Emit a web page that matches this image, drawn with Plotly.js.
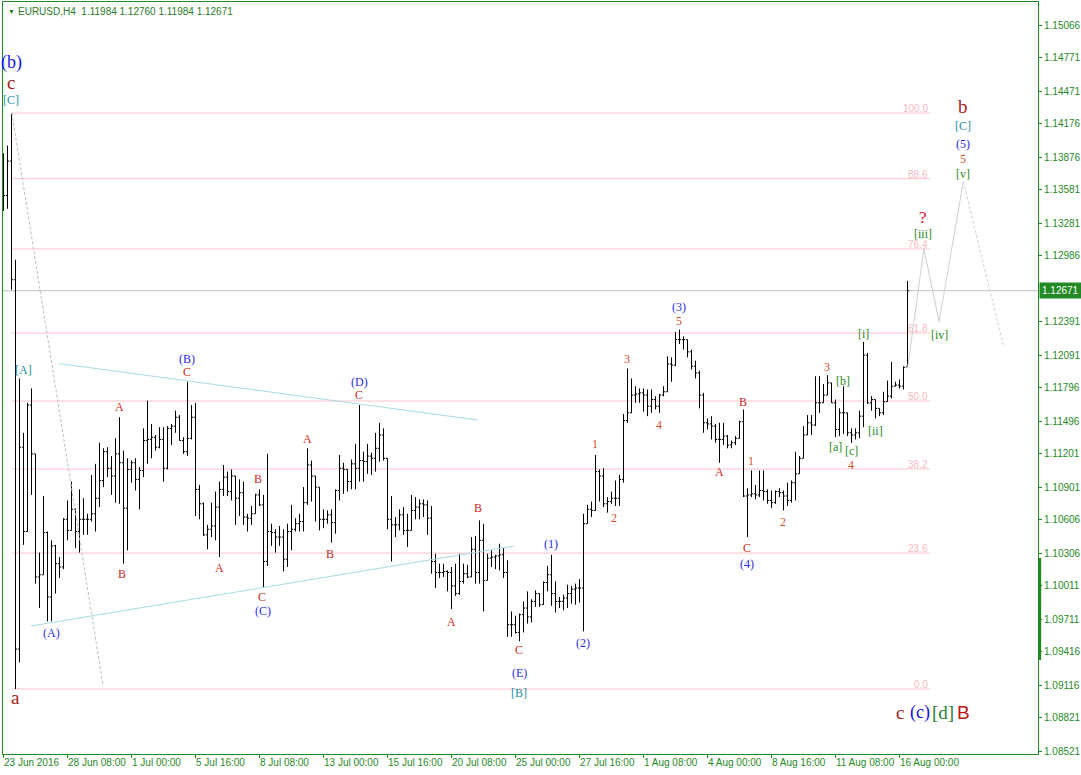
<!DOCTYPE html>
<html><head><meta charset="utf-8">
<script src="https://cdn.plot.ly/plotly-3.0.1.min.js"></script>
<style>html,body{margin:0;padding:0;background:#fff;}#chart{width:1081px;height:775px;}</style>
</head><body><div id="chart"></div>
<script>
// ---------- data: EURUSD H4 bars (bar index 0 = 23 Jun 2016 16:00) ----------
const barOpen = [
1.1360,1.1353,1.1384,1.1277,1.0944,1.1126,1.1050,1.1164,1.1120,1.1009,
1.1011,1.1049,1.0991,1.1037,1.1021,1.1018,1.1061,1.1051,1.1070,1.1050,
1.1061,1.1061,1.1061,1.1066,1.1080,1.1096,1.1122,1.1107,1.1100,1.1120,
1.1112,1.1071,1.1106,1.1112,1.1097,1.1105,1.1132,1.1133,1.1135,1.1126,
1.1133,1.1107,1.1143,1.1145,1.1153,1.1132,1.1122,1.1134,1.1153,1.1088,
1.1075,1.1047,1.1052,1.1055,1.1072,1.1088,1.1099,1.1086,1.1100,1.1080,
1.1085,1.1063,1.1062,1.1066,1.1083,1.1074,1.1023,1.1050,1.1049,1.1045,
1.1045,1.1025,1.1050,1.1052,1.1057,1.1059,1.1076,1.1110,1.1100,1.1090,
1.1061,1.1061,1.1065,1.1058,1.1087,1.1107,1.1106,1.1095,1.1111,1.1107,
1.1114,1.1113,1.1118,1.1116,1.1125,1.1137,1.1116,1.1061,1.1056,1.1056,
1.1065,1.1051,1.1051,1.1069,1.1072,1.1075,1.1074,1.1062,1.1023,1.1013,
1.1013,1.1014,1.1013,1.1001,1.0994,1.1005,1.1012,1.1009,1.1034,1.1013,
1.1042,1.1006,1.1026,1.1027,1.1028,1.1029,1.1013,1.0966,1.0966,1.0959,
1.0975,1.0981,1.0973,1.0987,1.0994,1.0984,1.1004,1.1011,1.0994,1.0987,
1.0987,1.0990,1.0994,1.0998,1.0999,1.0999,1.1057,1.1070,1.1069,1.1104,
1.1100,1.1075,1.1077,1.1080,1.1080,1.1097,1.1150,1.1157,1.1173,1.1174,
1.1175,1.1173,1.1163,1.1169,1.1163,1.1173,1.1176,1.1201,1.1200,1.1223,
1.1223,1.1223,1.1212,1.1199,1.1193,1.1173,1.1148,1.1147,1.1145,1.1133,
1.1133,1.1136,1.1128,1.1130,1.1134,1.1149,1.1082,1.1083,1.1084,1.1083,
1.1087,1.1086,1.1078,1.1076,1.1086,1.1085,1.1082,1.1078,1.1094,1.1102,
1.1116,1.1137,1.1148,1.1146,1.1166,1.1166,1.1173,1.1184,1.1166,1.1142,
1.1157,1.1157,1.1139,1.1137,1.1139,1.1154,1.1209,1.1166,1.1169,1.1161,
1.1157,1.1167,1.1172,1.1181,1.1182,1.1181,1.11984];
const barHigh = [
1.1391,1.1398,1.1427,1.1295,1.1188,1.1139,1.1166,1.1179,1.1120,1.1031,
1.1082,1.1050,1.1042,1.1038,1.1027,1.1062,1.1078,1.1095,1.1071,1.1088,
1.1080,1.1066,1.1101,1.1111,1.1130,1.1125,1.1126,1.1118,1.1134,1.1153,
1.1123,1.1116,1.1114,1.1116,1.1108,1.1143,1.1168,1.1147,1.1137,1.1144,
1.1144,1.1145,1.1147,1.1159,1.1155,1.1135,1.1185,1.1164,1.1166,1.1092,
1.1076,1.1056,1.1076,1.1086,1.1095,1.1110,1.1104,1.1106,1.1100,1.1097,
1.1095,1.1066,1.1073,1.1084,1.1088,1.1083,1.1120,1.1057,1.1052,1.1055,
1.1052,1.1057,1.1074,1.1062,1.1066,1.1090,1.1125,1.1114,1.1100,1.1090,
1.1070,1.1069,1.1070,1.1088,1.1119,1.1112,1.1106,1.1115,1.1129,1.1164,
1.1122,1.1129,1.1121,1.1139,1.1148,1.1143,1.1116,1.1082,1.1063,1.1070,
1.1072,1.1066,1.1083,1.1081,1.1079,1.1079,1.1078,1.1073,1.1030,1.1021,
1.1021,1.1015,1.1018,1.1021,1.1030,1.1021,1.1020,1.1045,1.1046,1.1060,
1.1057,1.1030,1.1033,1.1029,1.1039,1.1035,1.1024,1.0978,1.0974,1.0976,
1.0987,1.0996,1.0989,1.0997,1.0994,1.1005,1.1019,1.1029,1.1005,1.0991,
1.0993,1.1002,1.1001,1.1003,1.1007,1.1066,1.1074,1.1077,1.1119,1.1106,
1.1107,1.1081,1.1086,1.1096,1.1101,1.1156,1.1197,1.1188,1.1181,1.1179,
1.1179,1.1178,1.1178,1.1172,1.1174,1.1181,1.1208,1.1207,1.1230,1.1232,
1.1226,1.1223,1.1214,1.1204,1.1195,1.1175,1.1152,1.1154,1.1147,1.1148,
1.1148,1.1137,1.1132,1.1136,1.1150,1.1160,1.1089,1.1105,1.1092,1.1105,
1.1105,1.1088,1.1087,1.1087,1.1089,1.1087,1.1094,1.1096,1.1122,1.1118,
1.1145,1.1155,1.1155,1.1190,1.1190,1.1183,1.1191,1.1184,1.1169,1.1161,
1.1181,1.1157,1.1143,1.1143,1.1159,1.1221,1.1211,1.1172,1.1169,1.1161,
1.1176,1.1186,1.1203,1.1185,1.1187,1.1199,1.12760];
const barLow = [
1.1339,1.1341,1.1268,1.0908,1.0932,1.1038,1.1050,1.1083,1.1003,1.0981,
1.1011,1.0969,1.0969,1.0994,1.1008,1.1016,1.1042,1.1051,1.1035,1.1031,
1.1047,1.1047,1.1059,1.1050,1.1072,1.1090,1.1099,1.1083,1.1076,1.1075,
1.1021,1.1033,1.1094,1.1087,1.1070,1.1099,1.1111,1.1116,1.1123,1.1125,
1.1095,1.1106,1.1128,1.1139,1.1132,1.1120,1.1118,1.1133,1.1064,1.1061,
1.1046,1.1034,1.1045,1.1042,1.1027,1.1082,1.1082,1.1078,1.1056,1.1064,
1.1056,1.1050,1.1056,1.1066,1.1073,1.0999,1.1019,1.1037,1.1031,1.1037,
1.1014,1.1018,1.1033,1.1050,1.1050,1.1050,1.1074,1.1077,1.1059,1.1051,
1.1053,1.1057,1.1040,1.1048,1.1078,1.1084,1.1086,1.1088,1.1088,1.1095,
1.1095,1.1102,1.1101,1.1104,1.1113,1.1114,1.1052,1.1023,1.1045,1.1051,
1.1047,1.1036,1.1051,1.1061,1.1061,1.1063,1.1047,1.1012,1.0999,1.1008,
1.1009,1.0996,1.0980,1.0992,1.0993,1.1003,1.1008,1.1009,1.1003,1.1003,
1.0978,1.1006,1.1018,1.1016,1.1015,1.1008,1.0955,1.0955,1.0958,1.0951,
1.0959,1.0967,1.0968,1.0982,1.0982,1.0984,1.0996,1.0983,1.0977,1.0981,
1.0979,1.0981,1.0985,1.0984,1.0986,1.0960,1.1057,1.1063,1.1069,1.1077,
1.1072,1.1067,1.1075,1.1073,1.1073,1.1094,1.1148,1.1157,1.1166,1.1166,
1.1158,1.1154,1.1157,1.1160,1.1157,1.1172,1.1176,1.1185,1.1199,1.1219,
1.1214,1.1207,1.1196,1.1188,1.1161,1.1139,1.1142,1.1133,1.1130,1.1112,
1.1128,1.1125,1.1125,1.1128,1.1134,1.1081,1.1045,1.1081,1.1079,1.1081,
1.1078,1.1075,1.1071,1.1075,1.1081,1.1069,1.1073,1.1076,1.1078,1.1102,
1.1116,1.1137,1.1137,1.1145,1.1157,1.1166,1.1173,1.1166,1.1135,1.1136,
1.1138,1.1136,1.1130,1.1133,1.1134,1.1144,1.1165,1.1159,1.1152,1.1154,
1.1155,1.1167,1.1170,1.1181,1.1179,1.1178,1.11984];
const barClose = [
1.1353,1.1384,1.1277,1.0944,1.1126,1.1050,1.1164,1.1120,1.1009,1.1011,
1.1049,1.0991,1.1037,1.1021,1.1018,1.1061,1.1051,1.1070,1.1050,1.1061,
1.1061,1.1061,1.1066,1.1080,1.1096,1.1122,1.1107,1.1100,1.1120,1.1112,
1.1071,1.1106,1.1112,1.1097,1.1105,1.1132,1.1133,1.1135,1.1126,1.1133,
1.1107,1.1143,1.1145,1.1153,1.1132,1.1122,1.1134,1.1153,1.1088,1.1075,
1.1047,1.1052,1.1055,1.1072,1.1088,1.1099,1.1086,1.1100,1.1080,1.1085,
1.1063,1.1062,1.1066,1.1083,1.1074,1.1023,1.1050,1.1049,1.1045,1.1045,
1.1025,1.1050,1.1052,1.1057,1.1059,1.1076,1.1110,1.1100,1.1090,1.1061,
1.1061,1.1065,1.1058,1.1087,1.1107,1.1106,1.1095,1.1111,1.1107,1.1114,
1.1113,1.1118,1.1116,1.1125,1.1137,1.1116,1.1061,1.1056,1.1056,1.1065,
1.1051,1.1051,1.1069,1.1072,1.1075,1.1074,1.1062,1.1023,1.1013,1.1013,
1.1014,1.1013,1.1001,1.0994,1.1005,1.1012,1.1009,1.1034,1.1013,1.1042,
1.1006,1.1026,1.1027,1.1028,1.1029,1.1013,1.0966,1.0966,1.0959,1.0975,
1.0981,1.0973,1.0987,1.0994,1.0984,1.1004,1.1011,1.0994,1.0987,1.0987,
1.0990,1.0994,1.0998,1.0999,1.0999,1.1057,1.1070,1.1069,1.1104,1.1100,
1.1075,1.1077,1.1080,1.1080,1.1097,1.1150,1.1157,1.1173,1.1174,1.1175,
1.1173,1.1163,1.1169,1.1163,1.1173,1.1176,1.1201,1.1200,1.1223,1.1223,
1.1223,1.1212,1.1199,1.1193,1.1173,1.1148,1.1147,1.1145,1.1133,1.1133,
1.1136,1.1128,1.1130,1.1134,1.1149,1.1082,1.1083,1.1084,1.1083,1.1087,
1.1086,1.1078,1.1076,1.1086,1.1085,1.1082,1.1078,1.1094,1.1102,1.1116,
1.1137,1.1148,1.1146,1.1166,1.1166,1.1173,1.1184,1.1166,1.1142,1.1157,
1.1157,1.1139,1.1137,1.1139,1.1154,1.1209,1.1166,1.1169,1.1161,1.1157,
1.1167,1.1172,1.1181,1.1182,1.1181,1.1198,1.12671];

// time axis labels (every 16 bars)
const timeLabels = ["23 Jun 2016","28 Jun 08:00","1 Jul 00:00","5 Jul 16:00","8 Jul 08:00","13 Jul 00:00","15 Jul 16:00","20 Jul 08:00","25 Jul 00:00","27 Jul 16:00","1 Aug 08:00","4 Aug 00:00","8 Aug 16:00","11 Aug 08:00","16 Aug 00:00"];
const timeLabelBars = [0,16,32,48,64,80,96,112,128,144,160,176,192,208,224];
// price axis labels
const priceTicks = [1.08521,1.08821,1.09116,1.09416,1.09711,1.10011,1.10306,1.10606,1.10901,1.11201,1.11496,1.11796,1.12091,1.12391,1.12986,1.13281,1.13581,1.13876,1.14176,1.14471,1.14771,1.15066];
const lastPrice = 1.12671;
const headerText = "EURUSD,H4\u00a0\u00a01.11984 1.12760 1.11984 1.12671";

// Fibonacci retracement
const fibLevels = [0.0, 23.6, 38.2, 50.0, 61.8, 76.4, 88.6, 100.0];
const fibLow = 1.0908, fibHigh = 1.14273;
const fibFromBar = 2.05, fibToBar = 231.6;

// drawn lines (bar index, price)
const triUpperBars = [13.95, 118.6], triUpperPrices = [1.12014, 1.11505];
const triLowerBars = [6.8, 127.6],  triLowerPrices = [1.09648, 1.10369];
const guideBars = [2.1, 24.9],      guidePrices = [1.14273, 1.09107];
const pathBars = [226.05, 230.1, 233.9, 239.95], pathPrices = [1.1198, 1.1305, 1.1239, 1.13654];
const pathDashBars = [239.95, 249.95], pathDashPrices = [1.13654, 1.12182];

// Elliott wave labels
const waveText  = ["(b)","c","[C]","[A]","a","(A)","B","A","(B)","C","A","B","C","(C)","A","B","(D)","C","A","B","C","(E)","[B]","(1)","(2)","1","2","3","4","(3)","5","A","B","1","C","(4)","2","3","[b]","[a]","[c]","4","[i]","[ii]","[iii]","?","[iv]","b","[C]","(5)","5","[v]","c","(c)","[d]","B"];
const waveBar   = [2.1,1.9,1.9,5.0,2.9,11.9,29.6,29.0,45.9,45.8,53.9,63.6,64.6,64.9,75.9,81.6,88.9,88.9,111.9,118.6,128.9,128.9,128.9,136.9,144.9,147.9,152.6,155.9,163.9,168.9,168.9,178.9,184.9,186.9,185.9,185.9,194.9,205.9,209.9,207.9,211.9,211.9,215.1,217.9,229.9,229.9,233.9,239.9,239.9,239.9,239.9,239.9,224.1,229.0,234.9,239.9];
const wavePrice = [1.14733,1.14545,1.14390,1.11956,1.08999,1.09585,1.10117,1.11623,1.12055,1.11938,1.10171,1.10973,1.09909,1.09783,1.11334,1.10297,1.11848,1.11731,1.09684,1.10712,1.09432,1.09224,1.09044,1.10387,1.09495,1.11289,1.10622,1.12055,1.11460,1.12524,1.12398,1.11036,1.11668,1.11136,1.10351,1.10207,1.10586,1.11983,1.11857,1.11262,1.11226,1.11100,1.12281,1.11406,1.13185,1.13330,1.12272,1.14336,1.14156,1.13994,1.13858,1.13723,1.08864,1.08864,1.08864,1.08864];
const waveKind  = ["bigBlue","bigDark","teal","teal","bigDark","blue","red","red","blue","red","red","red","red","blue","red","red","blue","red","red","red","red","blue","teal","blue","blue","num","num","num","num","blue","num","red","red","num","red","blue","num","num","green","green","green","num","green","green","green","question","green","bigDark","teal","blue","num","green","bigDark","bigBlue","bigGreen","bigSans"];

// ---------- styles ----------
const AX = '#1f8a1f';
const SERIF = '"Liberation Serif", "Times New Roman", serif';
const SANS = '"Liberation Sans", Arial, sans-serif';
const kindStyle = {
  bigBlue:  {size:18, color:'#1414e6', family:SERIF},
  bigDark:  {size:19, color:'#a81c1c', family:SERIF},
  bigGreen: {size:19, color:'#1f7f2f', family:SERIF},
  bigSans:  {size:19, color:'#b81818', family:SANS},
  teal:     {size:12, color:'#1a8fa0', family:SERIF},
  blue:     {size:12, color:'#2a2af0', family:SERIF},
  red:      {size:12, color:'#d02a1a', family:SERIF},
  num:      {size:12, color:'#d0502a', family:SERIF},
  green:    {size:12, color:'#2a8a1a', family:SERIF},
  question: {size:17, color:'#e4102e', family:SERIF}
};

const barIndex = [];
for (let i = 0; i < barClose.length; i++) barIndex.push(i);

const traces = [
  {type:'ohlc', x:barIndex, open:barOpen, high:barHigh, low:barLow, close:barClose,
   increasing:{line:{color:'#000', width:1}}, decreasing:{line:{color:'#000', width:1}},
   tickwidth:0.4, hoverinfo:'skip'},
  {type:'scatter', mode:'lines', x:triUpperBars, y:triUpperPrices, line:{color:'#a9dbe3', width:1}, hoverinfo:'skip'},
  {type:'scatter', mode:'lines', x:triLowerBars, y:triLowerPrices, line:{color:'#a9dbe3', width:1}, hoverinfo:'skip'},
  {type:'scatter', mode:'lines', x:guideBars, y:guidePrices, line:{color:'#bdbdbd', width:1, dash:'3px,2px'}, hoverinfo:'skip'},
  {type:'scatter', mode:'lines', x:pathBars, y:pathPrices, line:{color:'#cfcfcf', width:1}, hoverinfo:'skip'},
  {type:'scatter', mode:'lines', x:pathDashBars, y:pathDashPrices, line:{color:'#cfcfcf', width:1, dash:'3px,2px'}, hoverinfo:'skip'}
];

const shapes = [];
const annotations = [];
fibLevels.forEach(lv => {
  const p = fibLow + lv / 100 * (fibHigh - fibLow);
  shapes.push({type:'line', xref:'x', yref:'y', x0:fibFromBar, x1:fibToBar, y0:p, y1:p, line:{color:'#f9c3cb', width:1}, layer:'below'});
  annotations.push({xref:'x', yref:'y', x:fibToBar, y:p, xanchor:'right', yanchor:'bottom', yshift:-3,
    text:lv.toFixed(1), showarrow:false, font:{family:SANS, size:10, color:'#f8b9c4'}});
});
shapes.push({type:'line', xref:'paper', yref:'y', x0:0, x1:1, y0:lastPrice, y1:lastPrice, line:{color:'#c0c0c0', width:1}, layer:'below'});
shapes.push({type:'line', xref:'paper', yref:'paper', x0:1.0016, x1:1.0016, y0:0.125, y1:0.2606, line:{color:AX, width:3}});

timeLabelBars.forEach((b, k) => {
  annotations.push({xref:'x', yref:'paper', x:b, y:0, xanchor:'left', yanchor:'top', yshift:-1, xshift:-2,
    text:timeLabels[k], showarrow:false, font:{family:SANS, size:10, color:AX}});
});
annotations.push({xref:'paper', yref:'y', x:1, y:lastPrice, xanchor:'left', yanchor:'middle', xshift:1,
  text:lastPrice.toFixed(5), showarrow:false, bgcolor:'#238a23', borderpad:2, font:{family:SANS, size:10, color:'#ffffff'}});
annotations.push({xref:'paper', yref:'paper', x:0, y:1, xanchor:'left', yanchor:'top', xshift:3, yshift:-4,
  text:'\u25BC', showarrow:false, font:{family:SANS, size:7, color:'#2a7a2a'}});
annotations.push({xref:'paper', yref:'paper', x:0, y:1, xanchor:'left', yanchor:'top', xshift:13, yshift:-2,
  text:headerText, showarrow:false, font:{family:SANS, size:10, color:'#2a7a2a'}});

waveText.forEach((t, k) => {
  const st = kindStyle[waveKind[k]];
  annotations.push({xref:'x', yref:'y', x:waveBar[k], y:wavePrice[k], xanchor:'center', yanchor:'middle',
    text:t, showarrow:false, borderpad:0, font:{family:st.family, size:st.size, color:st.color}});
});

const layout = {
  width:1081, height:775,
  margin:{l:3, r:43, t:2, b:21, pad:0},
  paper_bgcolor:'#ffffff', plot_bgcolor:'#ffffff',
  showlegend:false,
  xaxis:{type:'linear', range:[-0.125, 258.625], showgrid:false, zeroline:false,
    showline:true, mirror:true, linecolor:AX, linewidth:1,
    tickmode:'array', tickvals:timeLabelBars, ticks:'outside', ticklen:3, tickcolor:AX,
    showticklabels:false, rangeslider:{visible:false}, fixedrange:true},
  yaxis:{type:'linear', range:[1.08494, 1.15274], side:'right', showgrid:false, zeroline:false,
    showline:true, mirror:true, linecolor:AX, linewidth:1,
    tickmode:'array', tickvals:priceTicks, ticktext:priceTicks.map(v => v.toFixed(5)),
    ticks:'outside', ticklen:3, tickcolor:AX,
    tickfont:{family:SANS, size:10, color:AX}, fixedrange:true},
  shapes:shapes,
  annotations:annotations
};

Plotly.newPlot('chart', traces, layout, {displayModeBar:false, staticPlot:true});
</script>
</body></html>
